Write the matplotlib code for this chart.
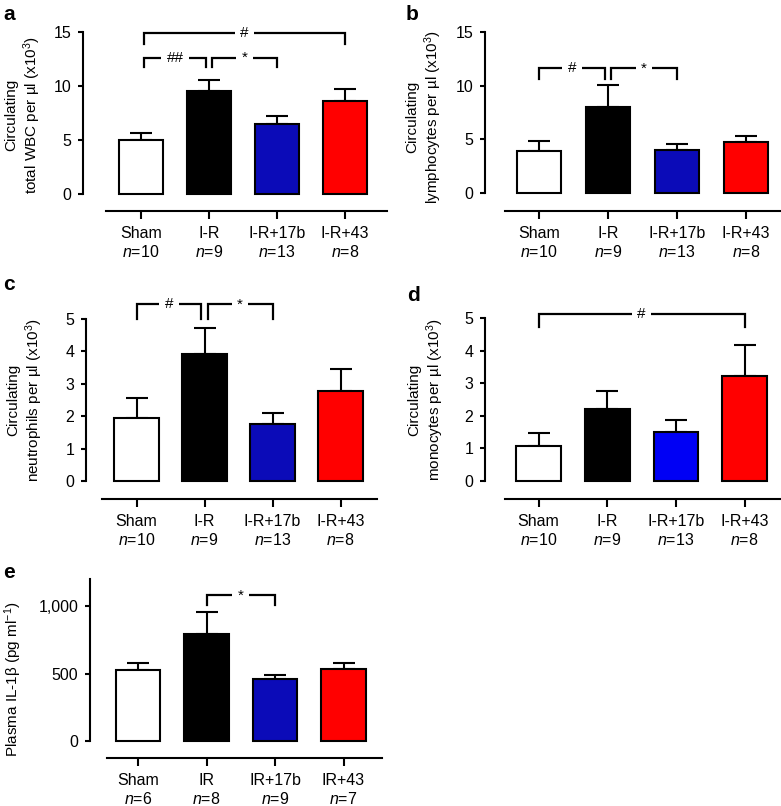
import matplotlib
matplotlib.use("Agg")
import matplotlib.pyplot as plt
import numpy as np

plt.rcParams.update({
    "font.family": ["Liberation Sans", "DejaVu Sans"],
    "mathtext.fontset": "custom",
    "mathtext.rm": "Liberation Sans",
    "mathtext.it": "Liberation Sans:italic",
    "font.size": 11.5,
    "axes.linewidth": 1.5,
})

# --- data ---------------------------------------------------------------
groups_cd = ["Sham", "I-R", "I-R+17b", "I-R+43"]
n_cd = [10, 9, 13, 8]
groups_e = ["Sham", "IR", "IR+17b", "IR+43"]
n_e = [6, 8, 9, 7]

wbc_mean = [5.0, 9.55, 6.45, 8.64]
wbc_sem = [0.65, 1.05, 0.8, 1.1]
lym_mean = [3.95, 8.05, 4.05, 4.75]
lym_sem = [0.9, 2.05, 0.5, 0.6]
neu_mean = [1.95, 3.93, 1.77, 2.79]
neu_sem = [0.6, 0.78, 0.34, 0.66]
mono_mean = [1.08, 2.2, 1.5, 3.23]
mono_sem = [0.39, 0.55, 0.36, 0.95]
il1b_mean = [524, 796, 456, 537]
il1b_sem = [55, 160, 32, 42]

# significance brackets: (group i, group j, height, leg drop, label)
brk_a = [(0, 3, 14.95, 1.05, "#"), (0, 1, 12.6, 0.8, "##"), (1, 2, 12.6, 0.8, "*")]
brk_b = [(0, 1, 11.6, 1.0, "#"), (1, 2, 11.6, 1.0, "*")]
brk_c = [(0, 1, 5.45, 0.46, "#"), (1, 2, 5.45, 0.46, "*")]
brk_d = [(0, 3, 5.12, 0.41, "#")]
brk_e = [(1, 2, 1079, 74, "*")]

colors = ["white", "black", "#0b0bb8", "#ff0000"]
colors_d = ["white", "black", "#0000f5", "#ff0000"]

W, H = 781, 806
fig = plt.figure(figsize=(W / 100, H / 100), dpi=100)


def panel(letter, lx, ly, left, c0, sp, xstart, xend, ytop, y0, xaxis_y,
          means, sems, ymax, yticks, ylabel, ylab_dx, ylab_y, groups, ns,
          brackets, cols, ticklabels=None):
    ax = fig.add_axes([left / W, 1 - y0 / H, (xend - left) / W, (y0 - ytop) / H])
    x = np.arange(len(means))
    ax.errorbar(x, means, yerr=[np.zeros(len(sems)), sems], fmt="none",
                ecolor="black", elinewidth=1.5, capsize=8, capthick=1.5,
                zorder=1, clip_on=False)
    ax.bar(x, means, width=0.65, color=cols, edgecolor="black",
           linewidth=1.5, zorder=2, clip_on=False)

    ax.set_xlim((left - c0) / sp, (xend - c0) / sp)
    ax.set_ylim(0, ymax)
    for s in ["top", "right"]:
        ax.spines[s].set_visible(False)
    ax.spines["left"].set_bounds(0, ymax)
    ax.spines["bottom"].set_position(("outward", (xaxis_y - y0) * 0.72))
    ax.spines["bottom"].set_bounds((xstart - c0) / sp, (xend - c0) / sp)

    ax.set_xticks(x)
    ax.set_xticklabels([f"{g}\n$n$={n}" for g, n in zip(groups, ns)],
                       fontsize=11.5, linespacing=1.22)
    ax.set_yticks(yticks)
    if ticklabels is not None:
        ax.set_yticklabels(ticklabels)
    ax.tick_params(axis="x", length=5.5, width=1.5, pad=5.5)
    ax.tick_params(axis="y", length=3.5, width=1.5, labelsize=11.5, pad=5)

    ax.set_ylabel(ylabel, fontsize=11, linespacing=1.2)
    ax.yaxis.label.set_verticalalignment("center")
    ax.yaxis.set_label_coords(ylab_dx / (xend - left), ylab_y)

    # brackets
    ends = {}
    for i, j, *_ in brackets:
        ends.setdefault(i, []).append("L")
        ends.setdefault(j, []).append("R")
    for i, j, yb, d, lab in brackets:
        xi = i + (0.045 if len(ends[i]) > 1 else 0)
        xj = j - (0.045 if len(ends[j]) > 1 else 0)
        ax.plot([xi, xi, xj, xj], [yb - d, yb, yb, yb - d], color="black",
                lw=1.6, clip_on=False, zorder=3, solid_joinstyle="miter")
        ax.text((xi + xj) / 2, yb, lab, ha="center", va="center", fontsize=11,
                zorder=4, bbox=dict(boxstyle="square,pad=0.35", fc="white", ec="none"))

    fig.text(lx / W, 1 - ly / H, letter, fontsize=15, fontweight="bold",
             ha="left", va="center")
    return ax


panel("a", 3, 15, 83, 141, 68, 106, 387, 32, 194, 211,
      wbc_mean, wbc_sem, 15, [0, 5, 10, 15],
      "Circulating\ntotal WBC per µl (x10$^3$)", -59, 0.49,
      groups_cd, n_cd, brk_a, colors)
panel("b", 406, 15, 485, 539, 69, 505, 781, 32, 193, 211,
      lym_mean, lym_sem, 15, [0, 5, 10, 15],
      "Circulating\nlymphocytes per µl (x10$^3$)", -60, 0.47,
      groups_cd, n_cd, brk_b, colors)
panel("c", 3, 285, 86, 136.5, 68, 102, 377, 319, 481, 499,
      neu_mean, neu_sem, 5, [0, 1, 2, 3, 4, 5],
      "Circulating\nneutrophils per µl (x10$^3$)", -60, 0.5,
      groups_cd, n_cd, brk_c, colors)
panel("d", 407, 295, 485, 538.5, 68.7, 505, 781, 318, 481, 499,
      mono_mean, mono_sem, 5, [0, 1, 2, 3, 4, 5],
      "Circulating\nmonocytes per µl (x10$^3$)", -58, 0.5,
      groups_cd, n_cd, brk_d, colors_d)
panel("e", 3, 572, 90, 138, 68.5, 107, 382, 579, 741, 758,
      il1b_mean, il1b_sem, 1200, [0, 500, 1000],
      "Plasma IL-1β (pg ml$^{-1}$)", -77, 0.38,
      groups_e, n_e, brk_e, colors, ticklabels=["0", "500", "1,000"])

fig.savefig("out.png", dpi=100)
